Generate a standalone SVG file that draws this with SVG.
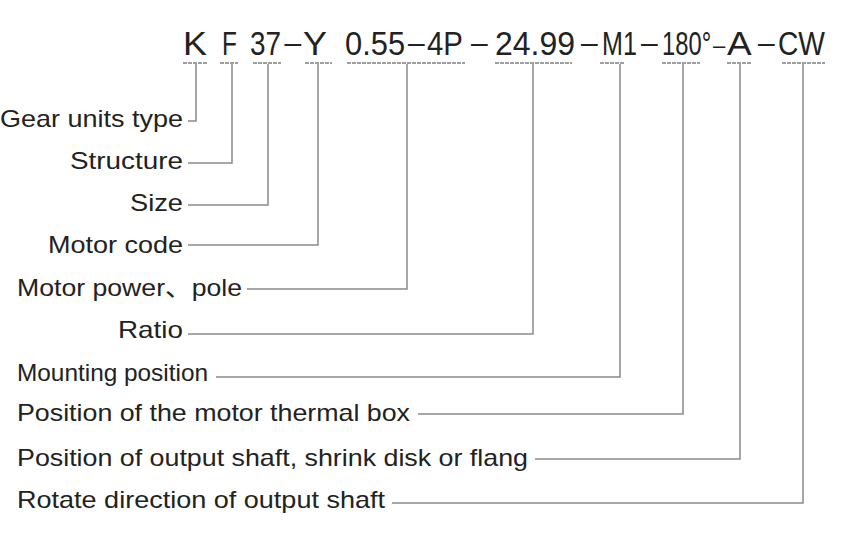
<svg xmlns="http://www.w3.org/2000/svg" width="850" height="550" viewBox="0 0 850 550">
<style>
.code{font-family:"Liberation Sans","Noto Sans CJK SC",sans-serif;font-size:33px;fill:#222}
.dash{font-family:"Liberation Sans",sans-serif;font-size:30px;fill:#222}
.lbl{font-family:"Liberation Sans","Noto Sans CJK SC",sans-serif;font-size:24px;fill:#222}
.ul{stroke:#808080;stroke-width:1.5;fill:none;stroke-dasharray:4 1}
.ln{stroke:#8a8a8a;stroke-width:1.5;fill:none}
</style>
<rect width="850" height="550" fill="#fff"/>
<g id="code">
<text class="code" transform="translate(183,55) scale(1.09,1)">K</text>
<text class="code" transform="translate(222,55) scale(0.74,1)">F</text>
<text class="code" transform="translate(250,55) scale(0.845,1)">37</text>
<text class="dash" transform="translate(284.5,53)">–</text>
<text class="code" transform="translate(303,55) scale(1.09,1)">Y</text>
<text class="code" transform="translate(345,55) scale(0.935,1)">0.55</text>
<text class="dash" transform="translate(408,53)">–</text>
<text class="code" transform="translate(427,55) scale(0.89,1)">4P</text>
<text class="dash" transform="translate(471,53)">–</text>
<text class="code" transform="translate(495,55) scale(0.97,1)">24.99</text>
<text class="dash" transform="translate(581,53)">–</text>
<text class="code" transform="translate(602,55) scale(0.76,1)">M1</text>
<text class="dash" transform="translate(641,53)">–</text>
<text class="code" transform="translate(662,55) scale(0.72,1)">180°</text>
<text class="dash" transform="translate(713,53)" style="font-size:22px">–</text>
<text class="code" transform="translate(727,55) scale(1.12,1)">A</text>
<text class="dash" transform="translate(758,53)">–</text>
<text class="code" transform="translate(778,55) scale(0.855,1)">CW</text>
</g>
<g id="underlines">
<line class="ul" x1="183" y1="63" x2="208" y2="63"/>
<line class="ul" x1="220" y1="63" x2="238" y2="63"/>
<line class="ul" x1="253" y1="63" x2="281" y2="63"/>
<line class="ul" x1="305" y1="63" x2="332" y2="63"/>
<line class="ul" x1="347" y1="63" x2="465" y2="63"/>
<line class="ul" x1="495" y1="63" x2="572" y2="63"/>
<line class="ul" x1="600" y1="63" x2="624" y2="63"/>
<line class="ul" x1="662" y1="63" x2="700" y2="63"/>
<line class="ul" x1="727" y1="63" x2="752" y2="63"/>
<line class="ul" x1="782" y1="63" x2="825" y2="63"/>
</g>
<g id="n1"><text class="lbl" x="183" y="127" text-anchor="end" textLength="183" lengthAdjust="spacingAndGlyphs">Gear units type</text></g>
<g id="n2"><text class="lbl" x="183" y="169" text-anchor="end" textLength="113" lengthAdjust="spacingAndGlyphs">Structure</text></g>
<g id="n3"><text class="lbl" x="183" y="211" text-anchor="end" textLength="53" lengthAdjust="spacingAndGlyphs">Size</text></g>
<g id="n4"><text class="lbl" x="183" y="253" text-anchor="end" textLength="135" lengthAdjust="spacingAndGlyphs">Motor code</text></g>
<g id="n5"><text class="lbl" x="17" y="296" textLength="225" lengthAdjust="spacingAndGlyphs">Motor power、pole</text></g>
<g id="n6"><text class="lbl" x="183" y="338" text-anchor="end" textLength="65" lengthAdjust="spacingAndGlyphs">Ratio</text></g>
<g id="n7"><text class="lbl" x="17" y="381" textLength="191" lengthAdjust="spacingAndGlyphs">Mounting position</text></g>
<g id="n8"><text class="lbl" x="17" y="421" textLength="393" lengthAdjust="spacingAndGlyphs">Position of the motor thermal box</text></g>
<g id="n9"><text class="lbl" x="17" y="466" textLength="511" lengthAdjust="spacingAndGlyphs">Position of output shaft, shrink disk or flang</text></g>
<g id="n10"><text class="lbl" x="17" y="508" textLength="368" lengthAdjust="spacingAndGlyphs">Rotate direction of output shaft</text></g>
<g id="connectors">
<polyline class="ln" points="196,64 196,121 188,121"/>
<polyline class="ln" points="232,64 232,163 188,163"/>
<polyline class="ln" points="268,64 268,205 188,205"/>
<polyline class="ln" points="318,64 318,245 188,245"/>
<polyline class="ln" points="407,64 407,289 247,289"/>
<polyline class="ln" points="533,64 533,334 188,334"/>
<polyline class="ln" points="620,64 620,377 216,377"/>
<polyline class="ln" points="683,64 683,414 418,414"/>
<polyline class="ln" points="740,64 740,459 535,459"/>
<polyline class="ln" points="803,64 803,503 392,503"/>
</g>
</svg>
